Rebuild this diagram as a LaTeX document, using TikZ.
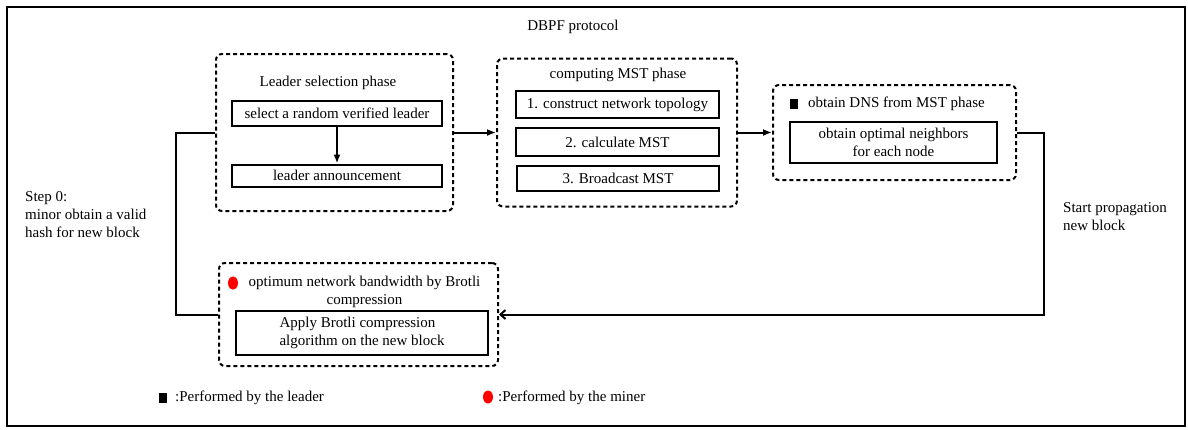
\documentclass[tikz,border=0pt]{standalone}
\usepackage{fontspec}
\setmainfont{Liberation Serif}
\usetikzlibrary{arrows.meta,shapes.geometric}

\begin{document}
\begin{tikzpicture}[x=1pt,y=-1pt,
  every node/.style={font=\fontsize{15}{18}\selectfont},
  phase/.style={draw, line width=2pt, dash pattern=on 4pt off 3pt,
    rounded corners=6pt, inner sep=0pt},
  stepbox/.style={draw, line width=2pt, inner sep=0pt, align=center},
  label/.style={inner sep=0pt, align=left},
  link/.style={line width=2pt},
  tip/.style={-{Latex[length=9pt,width=7pt]}},
  leadmark/.style={fill=black, inner sep=0pt, minimum width=8pt, minimum height=10pt},
  minermark/.style={ellipse, fill=red, inner sep=0pt, minimum width=10pt, minimum height=13pt}
]
\useasboundingbox (0,0) rectangle (1188,429);
\draw[line width=2.4pt] (7,7) rectangle (1185,426);

\node[label] (title) at (573,27) {DBPF protocol};

% leader selection phase
\node[phase, minimum width=237pt, minimum height=157pt] (lead) at (334.5,132.5) {};
\node[label] (leadt) at (328,83) {Leader selection phase};
\node[stepbox, minimum width=210pt, minimum height=25pt] (sel) at (337,113.5) {select a random verified leader};
\node[stepbox, minimum width=210pt, minimum height=22pt] (ann) at (337,175.5) {leader announcement};
\draw[link, tip] (sel.south) -- (ann.north);

% computing MST phase
\node[phase, minimum width=240pt, minimum height=148pt] (mst) at (617,132.5) {};
\node[label] (mstt) at (618,75) {computing MST phase};
\node[stepbox, minimum width=203pt, minimum height=27pt] (m1) at (617.5,104.5) {1. construct network topology};
\node[stepbox, minimum width=203pt, minimum height=28pt] (m2) at (617.5,142) {2. calculate MST};
\node[stepbox, minimum width=202pt, minimum height=25pt] (m3) at (618,178.5) {3. Broadcast MST};

% DNS phase
\node[phase, minimum width=243pt, minimum height=95pt] (dns) at (894.5,132.5) {};
\node[leadmark] (dnsm) at (794,104) {};
\node[label, anchor=west] (dnst) at (808,104) {obtain DNS from MST phase};
\node[stepbox, minimum width=207pt, minimum height=41pt] (nb) at (893.5,142.5) {obtain optimal neighbors\\for each node};

% Brotli phase
\node[phase, minimum width=279pt, minimum height=103pt] (brot) at (358.5,314.5) {};
\node[minermark] (brotm) at (233,283) {};
\node[label, align=center] (brott) at (364.5,292) {optimum network bandwidth by Brotli\\compression};
\node[stepbox, minimum width=252pt, minimum height=44pt] (app) at (362,333)
  {\begin{tabular}{@{}l@{}}Apply Brotli compression\\algorithm on the new block\end{tabular}};

% connectors
\coordinate (lc) at (176,0);
\coordinate (rc) at (1044,0);
\draw[link, tip] (lead.east) -- (mst.west);
\draw[link, tip] (mst.east) -- (dns.west);
\draw[link, -{Straight Barb[length=5pt,width=9pt]}] (dns.east) -- (rc |- dns.east) |- (brot.east);
\draw[link] (brot.west) -| (lc |- lead.west) -- (lead.west);

% side notes
\node[label, anchor=west] (step0) at (25,215) {Step 0:\\minor obtain a valid\\hash for new block};
\node[label, anchor=west] (prop) at (1063,217) {Start propagation\\new block};

% legend
\node[leadmark] (k1) at (163,398) {};
\node[label, anchor=west] (k1t) at (175,398) {:Performed by the leader};
\node[minermark] (k2) at (488,397) {};
\node[label, anchor=west] (k2t) at (498,398) {:Performed by the miner};
\end{tikzpicture}
\end{document}
